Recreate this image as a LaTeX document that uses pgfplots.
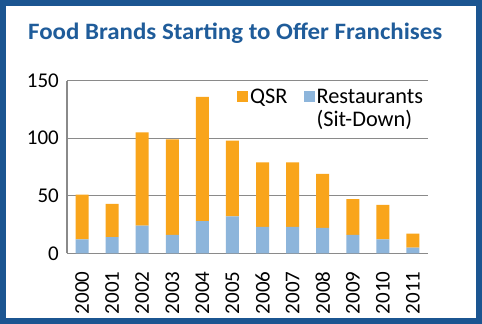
\documentclass[border=0pt]{standalone}
\usepackage{fontspec}
\setmainfont{Carlito}
\usepackage{pgfplots}
\pgfplotsset{compat=1.18}
\definecolor{qsr}{HTML}{F9A51B}
\definecolor{rest}{HTML}{8DB5DB}
\definecolor{titleblue}{HTML}{1F5C9A}
\definecolor{frameblue}{HTML}{1B5591}
\definecolor{gridgray}{HTML}{8A8A8A}
\begin{document}
\begin{tikzpicture}
\useasboundingbox (0bp,0bp) rectangle (482bp,324bp);
\fill[white] (0bp,0bp) rectangle (482bp,324bp);
\draw[frameblue, line width=6bp] (3bp,3bp) rectangle (479bp,321bp);
\node[anchor=base west, inner sep=0pt, text=titleblue, font=\fontsize{23.5bp}{28bp}\selectfont\bfseries] at (28bp,284bp) {\scalebox{1.06}[1]{Food Brands Starting to Offer Franchises}};
\begin{axis}[
  at={(67bp,70.7bp)}, anchor=south west,
  scale only axis, width=361bp, height=172.6bp,
  xmin=-0.5, xmax=11.5, ymin=0, ymax=150,
  xtick={0,...,11},
  xticklabels={2000,2001,2002,2003,2004,2005,2006,2007,2008,2009,2010,2011},
  ytick={0,50,100,150},
  axis x line*=bottom, axis y line*=left,
  axis line style={draw=gridgray, line width=1.2bp, -},
  ymajorgrids, grid style={draw=gridgray, line width=1.2bp},
  major tick length=0pt,
  tick style={draw=none},
  /pgf/number format/assume math mode=true,
  ticklabel style={font=\fontsize{21bp}{25bp}\selectfont},
  yticklabel style={anchor=east, inner sep=0pt, xshift=-8bp},
  xticklabel style={yshift=-18bp, rotate=90, anchor=east, inner sep=0pt},
  ybar stacked, bar width=13bp,
  reverse legend,
  legend columns=2,
  legend style={at={(0.471,0.965)}, anchor=north west, draw=none, fill=none,
    font=\fontsize{22.3bp}{21.5bp}\selectfont, inner sep=0pt,
    cells={anchor=base west},
    /tikz/every even column/.append style={column sep=14bp}},
  legend image code/.code={\fill[#1, draw=none] (0bp,1.5bp) rectangle (11bp,12.5bp);},
]
\addplot[fill=rest, draw=none] coordinates {(0,12) (1,14) (2,24) (3,16) (4,28) (5,32) (6,23) (7,23) (8,22) (9,16) (10,12) (11,5)};
\addlegendentry{\begin{tabular}[t]{@{}l@{}}Restaurants\\(Sit-Down)\end{tabular}}
\addplot[fill=qsr, draw=none] coordinates {(0,39) (1,29) (2,81) (3,83) (4,108) (5,66) (6,56) (7,56) (8,47) (9,31) (10,30) (11,12)};
\addlegendentry{QSR}
\end{axis}
\end{tikzpicture}
\end{document}
